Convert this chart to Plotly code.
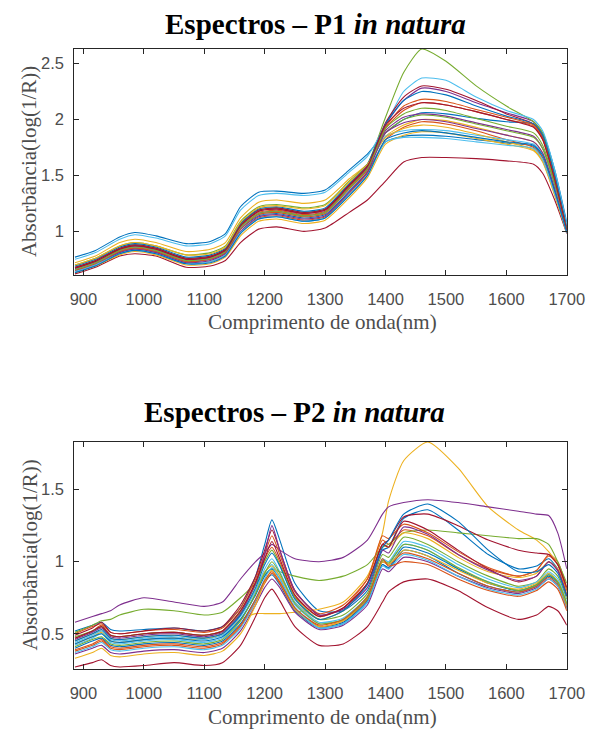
import plotly.graph_objects as go

# Wavelength grids (nm)
W1 = [886, 920, 960, 985, 1020, 1070, 1110, 1135, 1160, 1190, 1220, 1265, 1300,
      1340, 1370, 1400, 1430, 1460, 1500, 1550, 1600, 1645, 1660, 1680, 1700]
W2 = [886, 915, 930, 945, 960, 1000, 1050, 1100, 1130, 1160, 1185, 1200, 1212, 1225,
      1250, 1290, 1330, 1370, 1395, 1405, 1430, 1470, 1520, 1570, 1620, 1650, 1670, 1685, 1700]

# P1 in natura spectra, absorbance log(1/R)
P1_01 = [0.77, 0.83, 0.95, 0.99, 0.96, 0.89, 0.91, 0.98, 1.22, 1.35, 1.36, 1.34, 1.37, 1.55, 1.69, 1.88, 2.00, 2.06, 2.05, 2.01, 1.98, 1.96, 1.88, 1.55, 1.08]
P1_02 = [0.67, 0.73, 0.84, 0.87, 0.84, 0.75, 0.77, 0.83, 1.05, 1.17, 1.19, 1.15, 1.18, 1.40, 1.57, 1.92, 2.08, 2.15, 2.13, 2.07, 2.00, 1.94, 1.82, 1.45, 1.00]
P1_03 = [0.72, 0.78, 0.90, 0.93, 0.90, 0.82, 0.84, 0.90, 1.12, 1.26, 1.28, 1.25, 1.28, 1.47, 1.60, 1.85, 1.95, 2.00, 1.99, 1.93, 1.86, 1.80, 1.70, 1.38, 1.00]
P1_04 = [0.66, 0.72, 0.83, 0.86, 0.83, 0.74, 0.76, 0.82, 1.03, 1.16, 1.18, 1.14, 1.17, 1.39, 1.56, 1.95, 2.17, 2.28, 2.25, 2.15, 2.06, 1.98, 1.86, 1.50, 1.02]
P1_05 = [0.68, 0.74, 0.85, 0.88, 0.85, 0.76, 0.78, 0.84, 1.06, 1.19, 1.21, 1.17, 1.20, 1.42, 1.60, 2.02, 2.42, 2.63, 2.52, 2.30, 2.12, 1.98, 1.88, 1.50, 1.03]
P1_06 = [0.75, 0.81, 0.93, 0.97, 0.94, 0.87, 0.89, 0.96, 1.19, 1.32, 1.34, 1.32, 1.35, 1.53, 1.67, 1.95, 2.25, 2.37, 2.35, 2.20, 2.08, 2.00, 1.90, 1.55, 1.06]
P1_07 = [0.62, 0.68, 0.78, 0.80, 0.78, 0.68, 0.69, 0.74, 0.90, 1.02, 1.04, 1.00, 1.03, 1.17, 1.28, 1.45, 1.62, 1.66, 1.66, 1.65, 1.63, 1.60, 1.52, 1.28, 0.98]
P1_08 = [0.65, 0.71, 0.82, 0.85, 0.82, 0.73, 0.75, 0.81, 1.02, 1.14, 1.16, 1.12, 1.15, 1.36, 1.53, 1.80, 1.85, 1.86, 1.85, 1.82, 1.79, 1.76, 1.66, 1.35, 1.00]
P1_09 = [0.64, 0.70, 0.81, 0.84, 0.81, 0.72, 0.73, 0.79, 0.99, 1.12, 1.14, 1.10, 1.13, 1.34, 1.52, 1.82, 1.93, 1.98, 1.96, 1.90, 1.82, 1.75, 1.66, 1.35, 1.00]
P1_10 = [0.63, 0.69, 0.79, 0.82, 0.79, 0.70, 0.71, 0.77, 0.96, 1.09, 1.11, 1.07, 1.10, 1.30, 1.48, 1.78, 1.86, 1.89, 1.88, 1.83, 1.78, 1.72, 1.62, 1.32, 0.99]
P1_11 = [0.67, 0.73, 0.84, 0.87, 0.84, 0.75, 0.77, 0.83, 1.05, 1.18, 1.20, 1.16, 1.19, 1.41, 1.57, 1.90, 2.02, 2.05, 2.03, 1.97, 1.91, 1.85, 1.74, 1.42, 1.01]
P1_12 = [0.70, 0.76, 0.87, 0.90, 0.87, 0.79, 0.81, 0.87, 1.09, 1.22, 1.24, 1.21, 1.24, 1.45, 1.60, 1.88, 2.00, 2.04, 2.02, 1.96, 1.90, 1.84, 1.74, 1.42, 1.01]
P1_13 = [0.66, 0.72, 0.83, 0.86, 0.83, 0.74, 0.76, 0.82, 1.03, 1.15, 1.17, 1.13, 1.16, 1.38, 1.55, 1.85, 1.90, 1.91, 1.90, 1.86, 1.82, 1.78, 1.68, 1.38, 1.00]
P1_14 = [0.68, 0.74, 0.85, 0.88, 0.85, 0.76, 0.78, 0.84, 1.07, 1.19, 1.21, 1.17, 1.20, 1.42, 1.59, 1.97, 2.20, 2.30, 2.27, 2.17, 2.05, 1.96, 1.84, 1.48, 1.02]
P1_15 = [0.69, 0.75, 0.86, 0.89, 0.86, 0.77, 0.79, 0.85, 1.07, 1.20, 1.22, 1.18, 1.21, 1.43, 1.60, 1.96, 2.17, 2.25, 2.22, 2.12, 2.03, 1.96, 1.86, 1.50, 1.03]
P1_16 = [0.65, 0.71, 0.82, 0.85, 0.82, 0.73, 0.75, 0.81, 1.02, 1.15, 1.17, 1.13, 1.16, 1.38, 1.55, 1.93, 2.12, 2.18, 2.16, 2.09, 2.02, 1.95, 1.83, 1.46, 1.01]
P1_17 = [0.70, 0.76, 0.87, 0.90, 0.87, 0.79, 0.80, 0.86, 1.08, 1.21, 1.23, 1.20, 1.23, 1.44, 1.60, 1.84, 1.92, 1.95, 1.93, 1.87, 1.80, 1.73, 1.63, 1.33, 0.99]
P1_18 = [0.64, 0.70, 0.81, 0.84, 0.81, 0.72, 0.74, 0.80, 1.00, 1.13, 1.15, 1.11, 1.14, 1.35, 1.53, 1.88, 1.97, 2.00, 1.98, 1.92, 1.86, 1.80, 1.70, 1.38, 1.00]
P1_19 = [0.66, 0.72, 0.83, 0.86, 0.83, 0.74, 0.76, 0.82, 1.04, 1.16, 1.18, 1.14, 1.17, 1.39, 1.56, 1.92, 2.05, 2.10, 2.08, 2.01, 1.94, 1.88, 1.77, 1.44, 1.01]
P1_20 = [0.64, 0.70, 0.80, 0.83, 0.80, 0.71, 0.73, 0.79, 0.99, 1.11, 1.13, 1.09, 1.12, 1.33, 1.50, 1.80, 1.84, 1.84, 1.83, 1.80, 1.77, 1.74, 1.64, 1.34, 0.99]
P1_21 = [0.67, 0.73, 0.84, 0.87, 0.84, 0.75, 0.77, 0.83, 1.05, 1.18, 1.20, 1.16, 1.19, 1.41, 1.58, 1.95, 2.10, 2.15, 2.13, 2.07, 2.00, 1.93, 1.82, 1.46, 1.01]
P1_22 = [0.63, 0.69, 0.80, 0.83, 0.80, 0.71, 0.72, 0.78, 0.98, 1.11, 1.13, 1.09, 1.12, 1.32, 1.50, 1.82, 1.88, 1.90, 1.88, 1.84, 1.80, 1.77, 1.68, 1.36, 0.99]

# P2 in natura spectra, absorbance log(1/R)
P2_01 = [0.52, 0.56, 0.58, 0.53, 0.52, 0.53, 0.54, 0.52, 0.55, 0.68, 0.90, 1.12, 1.29, 1.15, 0.85, 0.66, 0.66, 0.80, 1.08, 1.10, 1.30, 1.36, 1.22, 1.05, 0.95, 0.97, 1.02, 0.95, 0.80]
P2_02 = [0.47, 0.52, 0.56, 0.49, 0.48, 0.50, 0.51, 0.49, 0.52, 0.66, 0.85, 1.02, 1.10, 1.00, 0.76, 0.62, 0.68, 0.88, 1.15, 1.12, 1.22, 1.18, 1.05, 0.95, 0.90, 0.94, 1.05, 1.00, 0.82]
P2_03 = [0.43, 0.48, 0.51, 0.45, 0.44, 0.46, 0.47, 0.46, 0.50, 0.60, 0.64, 0.64, 0.64, 0.64, 0.65, 0.67, 0.72, 0.90, 1.20, 1.42, 1.70, 1.83, 1.65, 1.38, 1.22, 1.15, 1.07, 0.98, 0.80]
P2_04 = [0.58, 0.62, 0.64, 0.66, 0.70, 0.75, 0.72, 0.69, 0.72, 0.88, 1.00, 1.06, 1.12, 1.08, 1.02, 1.00, 1.03, 1.15, 1.33, 1.38, 1.41, 1.43, 1.41, 1.38, 1.35, 1.33, 1.32, 1.20, 0.95]
P2_05 = [0.51, 0.56, 0.59, 0.60, 0.63, 0.67, 0.66, 0.63, 0.65, 0.75, 0.85, 0.91, 0.95, 0.93, 0.90, 0.87, 0.90, 0.98, 1.10, 1.12, 1.20, 1.22, 1.20, 1.18, 1.16, 1.16, 1.12, 1.00, 0.85]
P2_06 = [0.42, 0.47, 0.50, 0.44, 0.43, 0.45, 0.46, 0.44, 0.47, 0.60, 0.78, 0.92, 0.98, 0.90, 0.70, 0.57, 0.60, 0.75, 1.00, 0.98, 1.12, 1.08, 0.95, 0.86, 0.80, 0.84, 0.92, 0.86, 0.70]
P2_07 = [0.27, 0.30, 0.32, 0.28, 0.27, 0.28, 0.30, 0.28, 0.30, 0.42, 0.62, 0.75, 0.81, 0.73, 0.55, 0.42, 0.43, 0.55, 0.72, 0.79, 0.86, 0.88, 0.80, 0.68, 0.60, 0.63, 0.69, 0.66, 0.56]
P2_08 = [0.40, 0.45, 0.47, 0.42, 0.41, 0.43, 0.44, 0.42, 0.45, 0.57, 0.74, 0.86, 0.91, 0.84, 0.66, 0.54, 0.57, 0.72, 0.98, 0.95, 1.08, 1.04, 0.92, 0.83, 0.79, 0.83, 0.90, 0.85, 0.70]
P2_09 = [0.50, 0.55, 0.57, 0.51, 0.50, 0.52, 0.53, 0.51, 0.54, 0.68, 0.88, 1.05, 1.18, 1.05, 0.79, 0.64, 0.70, 0.88, 1.18, 1.16, 1.26, 1.20, 1.07, 0.96, 0.90, 0.94, 1.04, 0.98, 0.80]
P2_10 = [0.45, 0.50, 0.52, 0.47, 0.46, 0.48, 0.49, 0.47, 0.50, 0.63, 0.80, 0.93, 0.97, 0.90, 0.72, 0.60, 0.66, 0.85, 1.12, 1.10, 1.20, 1.16, 1.03, 0.93, 0.89, 0.92, 1.00, 0.95, 0.78]
P2_11 = [0.36, 0.40, 0.42, 0.37, 0.36, 0.38, 0.39, 0.37, 0.40, 0.52, 0.70, 0.82, 0.88, 0.82, 0.65, 0.53, 0.56, 0.70, 0.95, 0.93, 1.03, 1.00, 0.90, 0.82, 0.78, 0.82, 0.88, 0.83, 0.68]
P2_12 = [0.48, 0.52, 0.55, 0.49, 0.48, 0.50, 0.51, 0.49, 0.52, 0.65, 0.84, 1.00, 1.08, 0.98, 0.75, 0.60, 0.63, 0.78, 1.05, 1.03, 1.17, 1.12, 1.00, 0.90, 0.83, 0.86, 0.95, 0.90, 0.74]
P2_13 = [0.44, 0.49, 0.52, 0.46, 0.45, 0.47, 0.48, 0.46, 0.49, 0.62, 0.80, 0.95, 1.02, 0.93, 0.72, 0.58, 0.61, 0.76, 1.02, 1.00, 1.14, 1.10, 0.98, 0.88, 0.82, 0.86, 0.93, 0.88, 0.72]
P2_14 = [0.49, 0.54, 0.58, 0.51, 0.50, 0.52, 0.54, 0.52, 0.55, 0.70, 0.90, 1.08, 1.22, 1.08, 0.80, 0.63, 0.68, 0.85, 1.12, 1.10, 1.28, 1.22, 1.08, 0.95, 0.86, 0.90, 1.00, 0.94, 0.76]
P2_15 = [0.43, 0.48, 0.50, 0.45, 0.44, 0.46, 0.47, 0.45, 0.48, 0.60, 0.77, 0.90, 0.95, 0.88, 0.68, 0.55, 0.58, 0.73, 0.98, 0.96, 1.10, 1.06, 0.95, 0.85, 0.80, 0.84, 0.91, 0.86, 0.70]
P2_16 = [0.38, 0.42, 0.45, 0.40, 0.39, 0.41, 0.42, 0.40, 0.43, 0.55, 0.72, 0.85, 0.92, 0.85, 0.67, 0.55, 0.59, 0.74, 1.00, 0.98, 1.06, 1.02, 0.92, 0.83, 0.79, 0.83, 0.89, 0.84, 0.68]
P2_17 = [0.33, 0.37, 0.40, 0.35, 0.34, 0.36, 0.37, 0.35, 0.38, 0.50, 0.70, 0.86, 0.94, 0.86, 0.67, 0.55, 0.59, 0.75, 1.00, 0.98, 1.08, 1.04, 0.94, 0.85, 0.81, 0.85, 0.92, 0.86, 0.70]
P2_18 = [0.46, 0.51, 0.54, 0.48, 0.47, 0.49, 0.50, 0.48, 0.51, 0.64, 0.85, 1.05, 1.25, 1.08, 0.80, 0.63, 0.67, 0.82, 1.08, 1.06, 1.24, 1.19, 1.05, 0.94, 0.87, 0.90, 1.00, 0.94, 0.77]
P2_19 = [0.41, 0.46, 0.48, 0.43, 0.42, 0.44, 0.45, 0.43, 0.46, 0.59, 0.78, 0.92, 1.00, 0.92, 0.71, 0.57, 0.60, 0.75, 1.01, 0.99, 1.12, 1.08, 0.96, 0.86, 0.80, 0.84, 0.91, 0.86, 0.71]
P2_20 = [0.37, 0.41, 0.44, 0.39, 0.38, 0.40, 0.41, 0.39, 0.42, 0.54, 0.73, 0.88, 0.96, 0.88, 0.68, 0.54, 0.57, 0.72, 0.97, 0.95, 1.05, 1.01, 0.90, 0.81, 0.77, 0.81, 0.88, 0.83, 0.67]
P2_21 = [0.47, 0.52, 0.55, 0.49, 0.48, 0.50, 0.51, 0.49, 0.52, 0.66, 0.86, 1.02, 1.14, 1.02, 0.77, 0.62, 0.68, 0.85, 1.12, 1.15, 1.31, 1.33, 1.25, 1.15, 1.08, 1.06, 1.05, 0.98, 0.82]
P2_22 = [0.45, 0.50, 0.53, 0.47, 0.46, 0.48, 0.49, 0.47, 0.50, 0.63, 0.82, 0.98, 1.06, 0.97, 0.74, 0.60, 0.66, 0.84, 1.10, 1.15, 1.33, 1.40, 1.28, 1.08, 0.93, 0.93, 0.98, 0.92, 0.76]
P2_23 = [0.39, 0.43, 0.46, 0.41, 0.40, 0.42, 0.43, 0.41, 0.44, 0.56, 0.74, 0.87, 0.93, 0.86, 0.68, 0.56, 0.60, 0.76, 1.02, 0.97, 1.00, 0.98, 0.88, 0.80, 0.76, 0.80, 0.86, 0.81, 0.66]

P1_SERIES = [P1_01, P1_02, P1_03, P1_04, P1_05, P1_06, P1_07, P1_08, P1_09, P1_10, P1_11,
             P1_12, P1_13, P1_14, P1_15, P1_16, P1_17, P1_18, P1_19, P1_20, P1_21, P1_22]
P2_SERIES = [P2_01, P2_02, P2_03, P2_04, P2_05, P2_06, P2_07, P2_08, P2_09, P2_10, P2_11, P2_12,
             P2_13, P2_14, P2_15, P2_16, P2_17, P2_18, P2_19, P2_20, P2_21, P2_22, P2_23]

X_TICKS = [900, 1000, 1100, 1200, 1300, 1400, 1500, 1600, 1700]
Y1_TICKS = [1, 1.5, 2, 2.5]
Y2_TICKS = [0.5, 1, 1.5]

TITLE_1 = "<b>Espectros – P1 <i>in natura</i></b>"
TITLE_2 = "<b>Espectros – P2 <i>in natura</i></b>"
X_TITLE = "Comprimento de onda(nm)"
Y_TITLE = "Absorbância(log(1/R))"

COLORS = ["#0072BD", "#D95319", "#EDB120", "#7E2F8E", "#77AC30", "#4DBEEE", "#A2142F"]

W, H = 606, 729
LEFT, RIGHT = 73, 584
P1_TOP, P1_BOT = 49, 275
P2_TOP, P2_BOT = 442, 669


def py(px):
    return 1 - px / H


fig = go.Figure()

for i, s in enumerate(P1_SERIES):
    fig.add_trace(go.Scatter(x=W1, y=s, mode="lines", xaxis="x", yaxis="y",
                             line=dict(color=COLORS[i % 7], width=1.1, shape="spline", smoothing=0.6),
                             showlegend=False, hoverinfo="skip"))
for i, s in enumerate(P2_SERIES):
    fig.add_trace(go.Scatter(x=W2, y=s, mode="lines", xaxis="x2", yaxis="y2",
                             line=dict(color=COLORS[i % 7], width=1.1, shape="spline", smoothing=0.6),
                             showlegend=False, hoverinfo="skip"))

tick_font = dict(family="Liberation Sans, Arial, sans-serif", size=16.5, color="#4d4d4d")
common_x = dict(range=[885, 1700], tickvals=X_TICKS, ticks="inside", ticklen=5, tickcolor="#262626",
                showline=True, linecolor="#262626", linewidth=1, mirror="ticks", showgrid=False,
                zeroline=False, tickfont=tick_font, ticklabelstandoff=9, domain=[LEFT / W, RIGHT / W])
common_y = dict(ticks="inside", ticklen=5, tickcolor="#262626", showline=True, linecolor="#262626",
                linewidth=1, mirror="ticks", showgrid=False, zeroline=False, tickfont=tick_font,
                ticklabelstandoff=6)

fig.update_layout(
    width=W, height=H, margin=dict(l=0, r=0, t=0, b=0),
    paper_bgcolor="white", plot_bgcolor="white",
    xaxis=dict(**common_x, anchor="y"),
    yaxis=dict(**common_y, range=[0.61, 2.63], tickvals=Y1_TICKS, anchor="x",
               domain=[py(P1_BOT), py(P1_TOP)]),
    xaxis2=dict(**common_x, anchor="y2"),
    yaxis2=dict(**common_y, range=[0.256, 1.83], tickvals=Y2_TICKS, anchor="x2",
                domain=[py(P2_BOT), py(P2_TOP)]),
)

serif = "Liberation Serif, Times New Roman, serif"
ann = []
for text, cx, cy in ((TITLE_1, 323, 24), (TITLE_2, 301, 412)):
    ann.append(dict(text=text, x=cx / W, y=py(cy), xref="paper", yref="paper", showarrow=False,
                    xanchor="center", yanchor="middle",
                    font=dict(family=serif, size=29, color="black")))
for ypix in (322, 717):
    ann.append(dict(text=X_TITLE, x=331 / W, y=py(ypix), xref="paper", yref="paper",
                    showarrow=False, xanchor="center", yanchor="middle",
                    font=dict(family=serif, size=21, color="#4d4d4d")))
for top, bot in ((P1_TOP, P1_BOT), (P2_TOP, P2_BOT)):
    ann.append(dict(text=Y_TITLE, x=26 / W, y=py((top + bot) / 2), xref="paper", yref="paper",
                    showarrow=False, textangle=-90, xanchor="center", yanchor="middle",
                    font=dict(family=serif, size=21, color="#4d4d4d")))
fig.update_layout(annotations=ann)

fig.write_html("out.html")
